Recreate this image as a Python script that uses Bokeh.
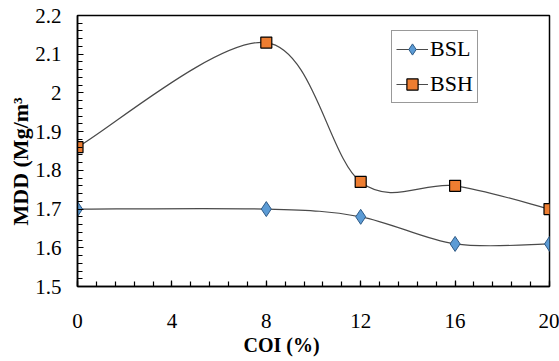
import numpy as np
from bokeh.plotting import figure
from bokeh.models import Range1d, SingleIntervalTicker, Title, Legend, LegendItem
from bokeh.embed import file_html
from bokeh.resources import INLINE

coi = [0, 8, 12, 16, 20]
bsl = [1.70, 1.70, 1.68, 1.61, 1.61]
bsh = [1.86, 2.13, 1.77, 1.76, 1.70]
x_ticks = [0, 4, 8, 12, 16, 20]

FONT = "Liberation Serif"

p = figure(width=559, height=361, output_backend="svg", toolbar_location=None,
           x_range=Range1d(0, 20), y_range=Range1d(1.5, 2.2),
           min_border_left=77, min_border_right=10, min_border_top=15, min_border_bottom=75)
p.xgrid.visible = False
p.ygrid.visible = False
p.outline_line_color = "black"
p.outline_line_width = 1.5


def smooth_segments(xs, ys):
    xs = np.asarray(xs, float)
    ys = np.asarray(ys, float)
    n = len(xs)
    seg = dict(x0=[], y0=[], x1=[], y1=[], cx0=[], cy0=[], cx1=[], cy1=[])
    for i in range(n - 1):
        im = max(i - 1, 0)
        ip2 = min(i + 2, n - 1)
        seg["x0"].append(xs[i]); seg["y0"].append(ys[i])
        seg["x1"].append(xs[i + 1]); seg["y1"].append(ys[i + 1])
        seg["cx0"].append(xs[i] + (xs[i + 1] - xs[im]) / 6)
        seg["cy0"].append(ys[i] + (ys[i + 1] - ys[im]) / 6)
        seg["cx1"].append(xs[i + 1] - (xs[ip2] - xs[i]) / 6)
        seg["cy1"].append(ys[i + 1] - (ys[ip2] - ys[i]) / 6)
    return seg


LINE = "#4a4a4a"
curves = []
for ys in (bsl, bsh):
    s = smooth_segments(coi, ys)
    curves.append(p.bezier(x0=s["x0"], y0=s["y0"], x1=s["x1"], y1=s["y1"],
                           cx0=s["cx0"], cy0=s["cy0"], cx1=s["cx1"], cy1=s["cy1"],
                           line_color=LINE, line_width=1.2))

r_bsl = p.scatter(coi, bsl, marker="diamond", size=15, fill_color="#5B9BD5",
                  line_color="#2E5A86", line_width=1)
r_bsh = p.scatter(coi, bsh, marker="square", size=11, fill_color="#ED7D31",
                  line_color="black", line_width=1.2)

legend = Legend(items=[LegendItem(label="BSL", renderers=[curves[0], r_bsl]),
                       LegendItem(label="BSH", renderers=[curves[1], r_bsh])],
                location=(314, 183))
legend.border_line_color = "#333333"
legend.border_line_width = 1.2
legend.background_fill_alpha = 1
legend.label_text_font = FONT
legend.label_text_font_size = "22px"
legend.label_text_color = "black"
legend.glyph_width = 32
legend.glyph_height = 28
legend.label_height = 22
legend.label_standoff = 2
legend.padding = 4
legend.spacing = 7
legend.margin = 0
p.add_layout(legend, "center")

for ax in (p.xaxis, p.yaxis):
    ax.axis_line_color = "black"
    ax.axis_line_width = 1.5
    ax.major_tick_line_color = "black"
    ax.minor_tick_line_color = "black"
    ax.major_tick_line_width = 1.2
    ax.minor_tick_line_width = 1.2
    ax.major_tick_in = 6
    ax.major_tick_out = 0
    ax.minor_tick_in = 5
    ax.minor_tick_out = 0
    ax.major_label_text_font = FONT
    ax.major_label_text_font_size = "21px"
    ax.major_label_text_color = "black"

p.xaxis.ticker = SingleIntervalTicker(interval=4, num_minor_ticks=5)
p.xaxis.major_label_overrides = {t: str(t) for t in x_ticks}
p.xaxis.major_label_standoff = 27
p.yaxis.ticker = SingleIntervalTicker(interval=0.1, num_minor_ticks=5)
p.yaxis.major_label_standoff = 16
p.yaxis.formatter.use_scientific = False

p.add_layout(Title(text="COI (%)", align="left", offset=166, standoff=2,
                   text_font=FONT, text_font_size="20px", text_font_style="bold",
                   text_color="black"), "below")
p.add_layout(Title(text="MDD (Mg/m³", align="left", offset=61, standoff=0,
                   text_font=FONT, text_font_size="22px", text_font_style="bold",
                   text_color="black"), "left")

open("out.html", "w").write(file_html(p, INLINE))
